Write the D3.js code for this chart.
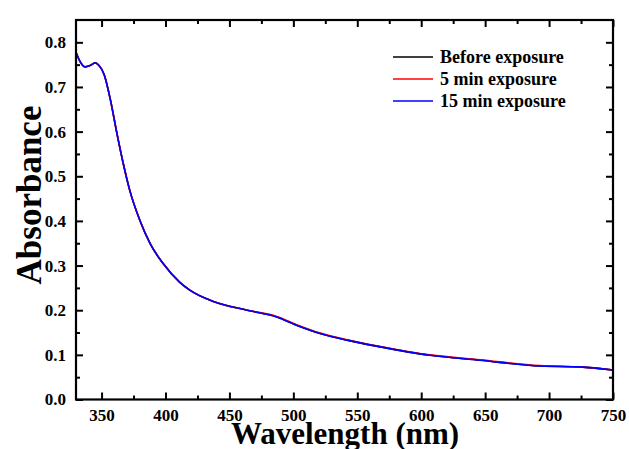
<!DOCTYPE html>
<html>
<head>
<meta charset="utf-8">
<script src="https://cdn.jsdelivr.net/npm/d3@7"></script>
<style>
  body { margin: 0; background: #fff; }
  svg { display: block; }
  text { font-family: "Liberation Serif", "Times New Roman", serif; font-weight: bold; fill: #000; }
</style>
</head>
<body>
<div id="chart"></div>
<script>
// wavelength (nm) and absorbance
const wavelength = [330, 333, 337, 341, 345, 348, 352, 357, 362, 367, 372, 380, 388, 398, 411, 419, 438, 464, 487, 503, 521, 542, 566, 607, 646, 693, 724, 750];
const beforeExposure = [0.778, 0.758, 0.745, 0.748, 0.754, 0.748, 0.728, 0.670, 0.596, 0.528, 0.469, 0.401, 0.349, 0.305, 0.263, 0.245, 0.219, 0.200, 0.185, 0.166, 0.148, 0.133, 0.119, 0.099, 0.088, 0.075, 0.073, 0.066];
const min5Exposure = [0.778, 0.758, 0.745, 0.748, 0.754, 0.748, 0.728, 0.670, 0.596, 0.528, 0.469, 0.401, 0.349, 0.305, 0.263, 0.245, 0.219, 0.200, 0.186, 0.167, 0.149, 0.134, 0.120, 0.100, 0.089, 0.076, 0.073, 0.066];
const min15Exposure = [0.778, 0.758, 0.745, 0.748, 0.754, 0.748, 0.728, 0.670, 0.596, 0.528, 0.469, 0.401, 0.349, 0.305, 0.263, 0.245, 0.219, 0.200, 0.185, 0.166, 0.148, 0.133, 0.119, 0.099, 0.088, 0.075, 0.073, 0.066];

const seriesNames = ['Before exposure', '5 min exposure', '15 min exposure'];
const seriesColors = ['#000000', '#ff0000', '#0000ff'];
const seriesValues = [beforeExposure, min5Exposure, min15Exposure];

const xTicks = [350, 400, 450, 500, 550, 600, 650, 700, 750];
const xMinorTicks = [375, 425, 475, 525, 575, 625, 675, 725];
const yTicks = [0.0, 0.1, 0.2, 0.3, 0.4, 0.5, 0.6, 0.7, 0.8];
const yMinorTicks = [0.05, 0.15, 0.25, 0.35, 0.45, 0.55, 0.65, 0.75];

const width = 629, height = 449;
const margin = { left: 76, right: 16, top: 20, bottom: 50 };

const svg = d3.select('#chart').append('svg')
  .attr('width', width)
  .attr('height', height);

const x = d3.scaleLinear().domain([330, 750]).range([margin.left, width - margin.right]);
const y = d3.scaleLinear().domain([0, 0.85]).range([height - margin.bottom + 0.5, margin.top]);

// curves (black under, blue on top)
const line = d3.line()
  .x((d, i) => x(wavelength[i]))
  .y(d => y(d))
  .curve(d3.curveMonotoneX);

const plot = svg.append('g');
seriesValues.forEach((vals, k) => {
  plot.append('path')
    .datum(vals)
    .attr('fill', 'none')
    .attr('stroke', seriesColors[k])
    .attr('stroke-width', 1.6)
    .attr('d', line);
});

// axes with inward ticks on all four sides
function tickAxis(axisFn, scale, major, minor, transform, labels) {
  const g = svg.append('g').attr('transform', transform);
  g.call(axisFn(scale).tickValues(minor).tickSize(-4).tickFormat(''));
  const m = svg.append('g').attr('transform', transform);
  m.call(axisFn(scale).tickValues(major).tickSize(-7).tickPadding(labels ? 10 : 0)
    .tickFormat(labels ? labels : ''));
  [g, m].forEach(s => {
    s.select('.domain').remove();
    s.selectAll('line').attr('stroke', '#000').attr('stroke-width', 2);
  });
  if (!labels) m.selectAll('text').remove();
  g.selectAll('text').remove();
  return m;
}

const bottom = tickAxis(d3.axisBottom, x, xTicks, xMinorTicks,
  `translate(0,${y(0)})`, d3.format('d'));
bottom.selectAll('text').attr('font-size', 17).attr('dy', '0.8em').attr('y', 8);

tickAxis(d3.axisTop, x, xTicks, xMinorTicks, `translate(0,${margin.top})`, null);

const left = tickAxis(d3.axisLeft, y, yTicks, yMinorTicks, `translate(${margin.left},0)`, d3.format('.1f'));
left.selectAll('text').attr('font-size', 17).attr('x', -10);

tickAxis(d3.axisRight, y, yTicks, yMinorTicks, `translate(${width - margin.right},0)`, null);

// frame
svg.append('rect')
  .attr('x', margin.left)
  .attr('y', margin.top)
  .attr('width', width - margin.right - margin.left)
  .attr('height', y(0) - margin.top)
  .attr('fill', 'none')
  .attr('stroke', '#000')
  .attr('stroke-width', 2.2);

// axis titles
svg.append('text')
  .attr('x', 345)
  .attr('y', 444)
  .attr('text-anchor', 'middle')
  .attr('font-size', 31)
  .text('Wavelength (nm)');

svg.append('text')
  .attr('transform', 'translate(41,195) rotate(-90)')
  .attr('text-anchor', 'middle')
  .attr('font-size', 35)
  .text('Absorbance');

// legend
const legend = svg.append('g').attr('transform', 'translate(393,57)');
seriesNames.forEach((name, k) => {
  const row = legend.append('g').attr('transform', `translate(0,${k * 22})`);
  row.append('line')
    .attr('x1', 0).attr('x2', 40)
    .attr('stroke', seriesColors[k])
    .attr('stroke-width', 1.4);
  row.append('text')
    .attr('x', 47)
    .attr('dy', '0.35em')
    .attr('font-size', 18)
    .text(name);
});
</script>
</body>
</html>
